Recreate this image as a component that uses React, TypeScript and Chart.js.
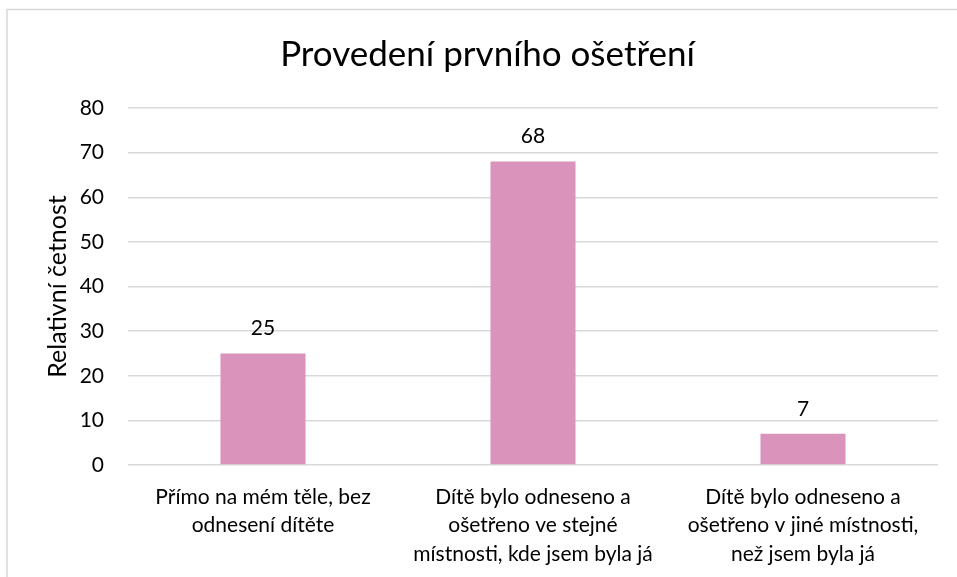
import React, { useEffect, useRef } from "react";
import { Chart, registerables } from "chart.js";

Chart.register(...registerables);

const chartTitle = "Provedení prvního ošetření";
const yAxisTitle = "Relativní četnost";
const categories: string[][] = [
  ["Přímo na mém těle, bez", "odnesení dítěte"],
  ["Dítě bylo odneseno a", "ošetřeno ve stejné", "místnosti, kde jsem byla já"],
  ["Dítě bylo odneseno a", "ošetřeno v jiné místnosti,", "než jsem byla já"],
];
const values = [25, 68, 7];
const yMin = 0;
const yMax = 80;
const yStep = 10;

const FONT = "Lato, 'Open Sans', sans-serif";
const TEXT = "#000000";
const GRID = "#d9d9d9";
const BAR = "#DA94BC";

const decorPlugin = {
  id: "decor",
  beforeDraw(chart: any) {
    const { ctx, width, height } = chart;
    ctx.save();
    ctx.fillStyle = "#ffffff";
    ctx.fillRect(0, 0, width, height);
    ctx.strokeStyle = GRID;
    ctx.lineWidth = 1.5;
    ctx.beginPath();
    ctx.moveTo(7, height + 5);
    ctx.lineTo(7, 9.5);
    ctx.lineTo(width + 5, 9.5);
    ctx.stroke();
    ctx.restore();
  },
  afterDraw(chart: any) {
    const { ctx, chartArea } = chart;
    ctx.save();
    ctx.fillStyle = TEXT;
    ctx.textAlign = "center";
    ctx.textBaseline = "middle";
    ctx.font = `35px ${FONT}`;
    ctx.fillText(chartTitle, 487.5, 55);
    ctx.save();
    ctx.translate(58, (chartArea.top + chartArea.bottom) / 2);
    ctx.rotate(-Math.PI / 2);
    ctx.font = `25px ${FONT}`;
    ctx.fillText(yAxisTitle, 0, 0);
    ctx.restore();
    ctx.font = `21px ${FONT}`;
    const meta = chart.getDatasetMeta(0);
    meta.data.forEach((bar: any, i: number) => {
      ctx.fillText(String(values[i]), bar.x, bar.y - 25);
    });
    ctx.restore();
  },
};

export default function App() {
  const ref = useRef<HTMLCanvasElement>(null);
  useEffect(() => {
    if (!ref.current) return;
    const chart = new Chart(ref.current, {
      type: "bar",
      data: {
        labels: categories,
        datasets: [
          {
            data: values,
            backgroundColor: BAR,
            barPercentage: 0.315,
            categoryPercentage: 1,
          },
        ],
      },
      options: {
        responsive: false,
        animation: false,
        events: [],
        layout: { padding: { left: 0, top: 108, right: 19, bottom: 0 } },
        plugins: {
          legend: { display: false },
          title: { display: false },
          tooltip: { enabled: false },
        },
        scales: {
          x: {
            grid: { display: false },
            border: { display: false },
            ticks: {
              color: TEXT,
              font: { family: FONT, size: 21, lineHeight: 1.35 },
              padding: 10,
              maxRotation: 0,
              autoSkip: false,
            },
            afterFit(scale: any) {
              scale.height = 112;
            },
          },
          y: {
            min: yMin,
            max: yMax,
            grid: { color: GRID, lineWidth: 1.5, drawTicks: false },
            border: { display: false },
            ticks: {
              stepSize: yStep,
              color: TEXT,
              font: { family: FONT, size: 21 },
              padding: 24,
            },
            afterFit(scale: any) {
              scale.width = 128;
            },
          },
        },
      },
      plugins: [decorPlugin],
    });
    return () => chart.destroy();
  }, []);
  return (
    <div style={{ position: "absolute", left: 0, top: 0, width: 957, height: 577 }}>
      <canvas ref={ref} width={957} height={577} style={{ display: "block" }} />
    </div>
  );
}
